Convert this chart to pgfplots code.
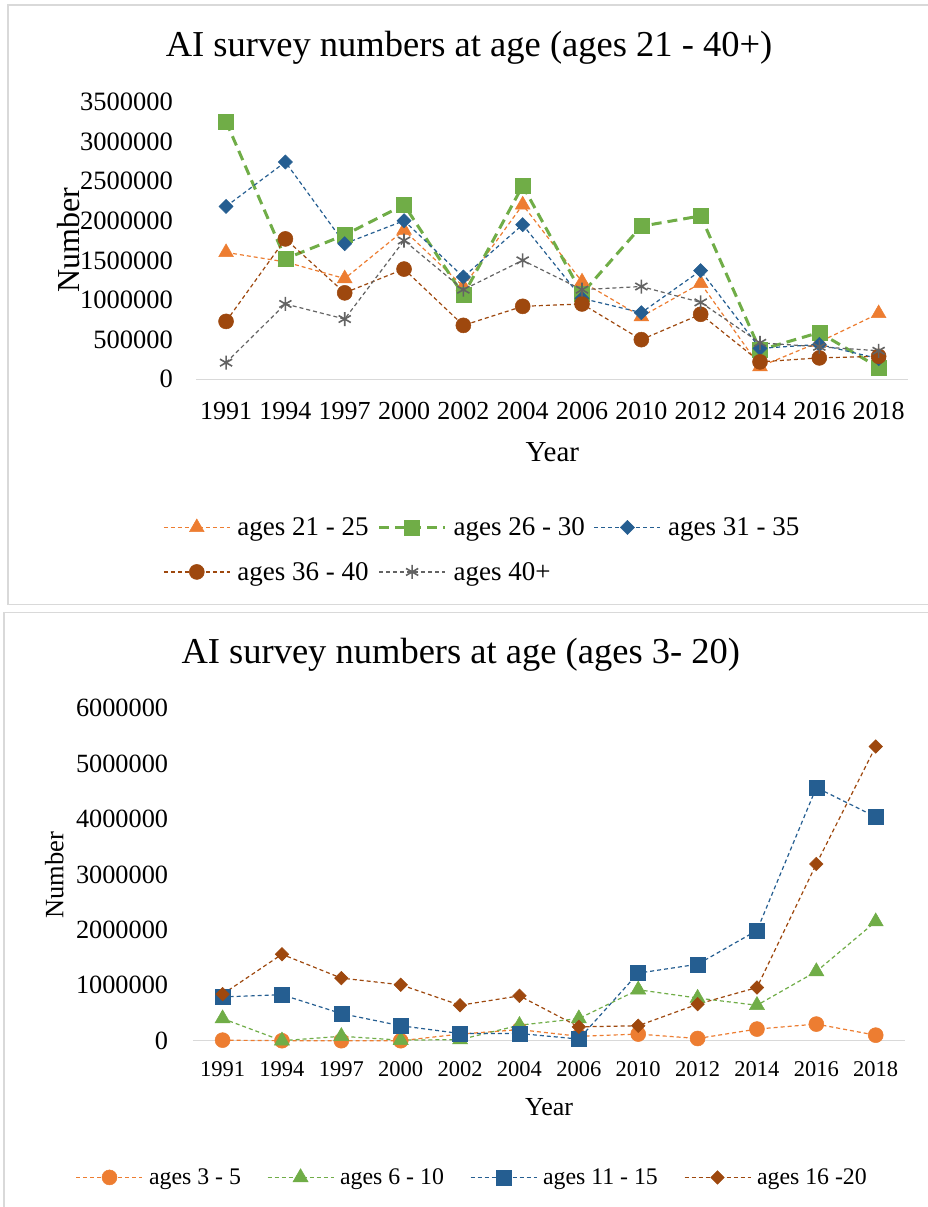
\documentclass[border=0pt]{standalone}
\usepackage{fontspec}
\setmainfont{Liberation Serif}
\usepackage{pgfplots}
\usepackage{pgfplotstable}
\pgfplotsset{compat=1.18}
\definecolor{cOr}{HTML}{ED7D31}
\definecolor{cGr}{HTML}{70AD47}
\definecolor{cBl}{HTML}{255E91}
\definecolor{cBr}{HTML}{9E480E}
\definecolor{cGy}{HTML}{636363}
\definecolor{cAx}{HTML}{D9D9D9}

\pgfplotstableread{
x a b c d e
0 1600000 3250000 2180000 730000 210000
1 1480000 1520000 2740000 1770000 950000
2 1270000 1820000 1710000 1090000 760000
3 1880000 2200000 2000000 1390000 1750000
4 1170000 1060000 1290000 680000 1130000
5 2200000 2440000 1950000 920000 1500000
6 1230000 1080000 1020000 950000 1130000
7 790000 1930000 840000 500000 1170000
8 1210000 2060000 1370000 820000 970000
9 160000 370000 390000 220000 460000
10 470000 590000 440000 270000 410000
11 830000 150000 260000 290000 360000
}\topdata

\pgfplotstableread{
x a b c d
0 10000 400000 790000 840000
1 0 0 830000 1560000
2 0 80000 490000 1130000
3 0 10000 270000 1010000
4 120000 20000 130000 640000
5 200000 280000 130000 810000
6 80000 400000 30000 250000
7 120000 920000 1220000 270000
8 40000 770000 1380000 660000
9 210000 640000 1990000 960000
10 300000 1250000 4570000 3190000
11 100000 2150000 4040000 5310000
}\botdata

\pgfplotsset{
 base/.style={
  scale only axis, axis lines=left,
  x axis line style={draw=cAx, line width=1.5pt, -},
  y axis line style={draw=none},
  major tick length=0pt,
  xmin=-0.5, xmax=11.5, ymin=0,
  xtick={0,...,11},
  xticklabels={1991,1994,1997,2000,2002,2004,2006,2010,2012,2014,2016,2018},
  scaled y ticks=false,
  /pgf/number format/fixed,
  /pgf/number format/precision=0,
  /pgf/number format/1000 sep={},
  /pgf/number format/assume math mode=true,
  clip=false,
  legend cell align=left,
  legend image code/.code={\draw[mark repeat=2,mark phase=2,#1] plot coordinates {(0pt,0pt) (33pt,0pt) (66pt,0pt)};},
 },
 thin/.style={line width=1.2pt, dash pattern=on 4pt off 3pt},
}

\begin{document}
\begin{tikzpicture}
\useasboundingbox (0pt,0pt) rectangle (928pt,-1207pt);
\fill[white] (0pt,0pt) rectangle (928pt,-1207pt);
\draw[cAx, line width=1.5pt] (8pt,-5pt) rectangle (945pt,-604.3pt);
\draw[cAx, line width=1.5pt] (4pt,-612.7pt) rectangle (945pt,-1225pt);

\begin{axis}[base,
  at={(196.4pt,-379.3pt)}, anchor=south west,
  width=711.9pt, height=277.6pt,
  ymax=3500000, ytick={0,500000,...,3500000},
  yticklabel style={font=\fontsize{26.5}{30}\selectfont, anchor=east, inner sep=0pt, xshift=-23.4pt},
  xticklabel style={font=\fontsize{26}{30}\selectfont, anchor=north, inner sep=0pt, yshift=-22.4pt},
  title={AI survey numbers at age (ages 21 - 40+)},
  title style={font=\fontsize{36.5}{40}\selectfont, at={(axis description cs:0.383,1.143)}, anchor=base, inner sep=0pt},
  xlabel={Year},
  xlabel style={font=\fontsize{29}{33}\selectfont, at={(axis description cs:0.5,-0.297)}, anchor=base, inner sep=0pt},
  ylabel={Number},
  ylabel style={font=\fontsize{32}{36}\selectfont, at={(axis description cs:-0.1642,0.502)}, anchor=base, inner sep=0pt},
  legend columns=3,
  legend style={draw=none, fill=none, inner sep=0pt, font=\fontsize{27}{32}\selectfont,
    at={(axis description cs:-0.0469,-0.498)}, anchor=north west,
    nodes={inner sep=0pt}, column sep=7pt, row sep=25pt,
    /tikz/every even column/.append style={column sep=9pt}},
]
\addplot[cOr, thin, mark=triangle*, mark size=8.5pt, mark options={solid, line width=0.5pt}] table[x=x,y=a]{\topdata};
\addlegendentry{ages 21 - 25}
\addplot[cGr, line width=3pt, dash pattern=on 10pt off 6pt, mark=square*, mark size=7.5pt, mark options={solid, line width=0.5pt}] table[x=x,y=b]{\topdata};
\addlegendentry{ages 26 - 30}
\addplot[cBl, thin, mark=square*, mark size=5pt, mark options={solid, rotate=45, line width=0.5pt}] table[x=x,y=c]{\topdata};
\addlegendentry{ages 31 - 35}
\addplot[cBr, thin, mark=*, mark size=7.5pt, mark options={solid, line width=0.5pt}] table[x=x,y=d]{\topdata};
\addlegendentry{ages 36 - 40}
\addplot[cGy, thin, mark=asterisk, mark size=7pt, mark options={solid, line width=1.6pt}] table[x=x,y=e]{\topdata};
\addlegendentry{ages 40+}
\end{axis}

\begin{axis}[base,
  at={(192.9pt,-1040.7pt)}, anchor=south west,
  width=712.5pt, height=332.4pt,
  ymax=6000000, ytick={0,1000000,...,6000000},
  yticklabel style={font=\fontsize{26.3}{30}\selectfont, anchor=east, inner sep=0pt, xshift=-24.6pt},
  xticklabel style={font=\fontsize{22.5}{26}\selectfont, anchor=north, inner sep=0pt, yshift=-21pt},
  title={AI survey numbers at age (ages 3- 20)},
  title style={font=\fontsize{36.5}{40}\selectfont, at={(axis description cs:0.376,1.118)}, anchor=base, inner sep=0pt},
  xlabel={Year},
  xlabel style={font=\fontsize{26}{30}\selectfont, at={(axis description cs:0.5,-0.2235)}, anchor=base, inner sep=0pt},
  ylabel={Number},
  ylabel style={font=\fontsize{26.5}{30}\selectfont, at={(axis description cs:-0.1819,0.4985)}, anchor=base, inner sep=0pt},
  legend columns=4,
  legend style={draw=none, fill=none, inner sep=0pt, font=\fontsize{23.8}{28}\selectfont,
    at={(axis description cs:-0.1645,-0.3845)}, anchor=north west,
    nodes={inner sep=0pt}, column sep=6pt,
    /tikz/every even column/.append style={column sep=26pt}},
]
\addplot[cOr, thin, mark=*, mark size=7.5pt, mark options={solid, line width=0.5pt}] table[x=x,y=a]{\botdata};
\addlegendentry{ages 3 - 5}
\addplot[cGr, thin, mark=triangle*, mark size=8.7pt, mark options={solid, line width=0.5pt}] table[x=x,y=b]{\botdata};
\addlegendentry{ages 6 - 10}
\addplot[cBl, thin, mark=square*, mark size=7.5pt, mark options={solid, line width=0.5pt}] table[x=x,y=c]{\botdata};
\addlegendentry{ages 11 - 15}
\addplot[cBr, thin, mark=square*, mark size=4.8pt, mark options={solid, rotate=45, line width=0.5pt}] table[x=x,y=d]{\botdata};
\addlegendentry{ages 16 -20}
\end{axis}
\end{tikzpicture}
\end{document}
